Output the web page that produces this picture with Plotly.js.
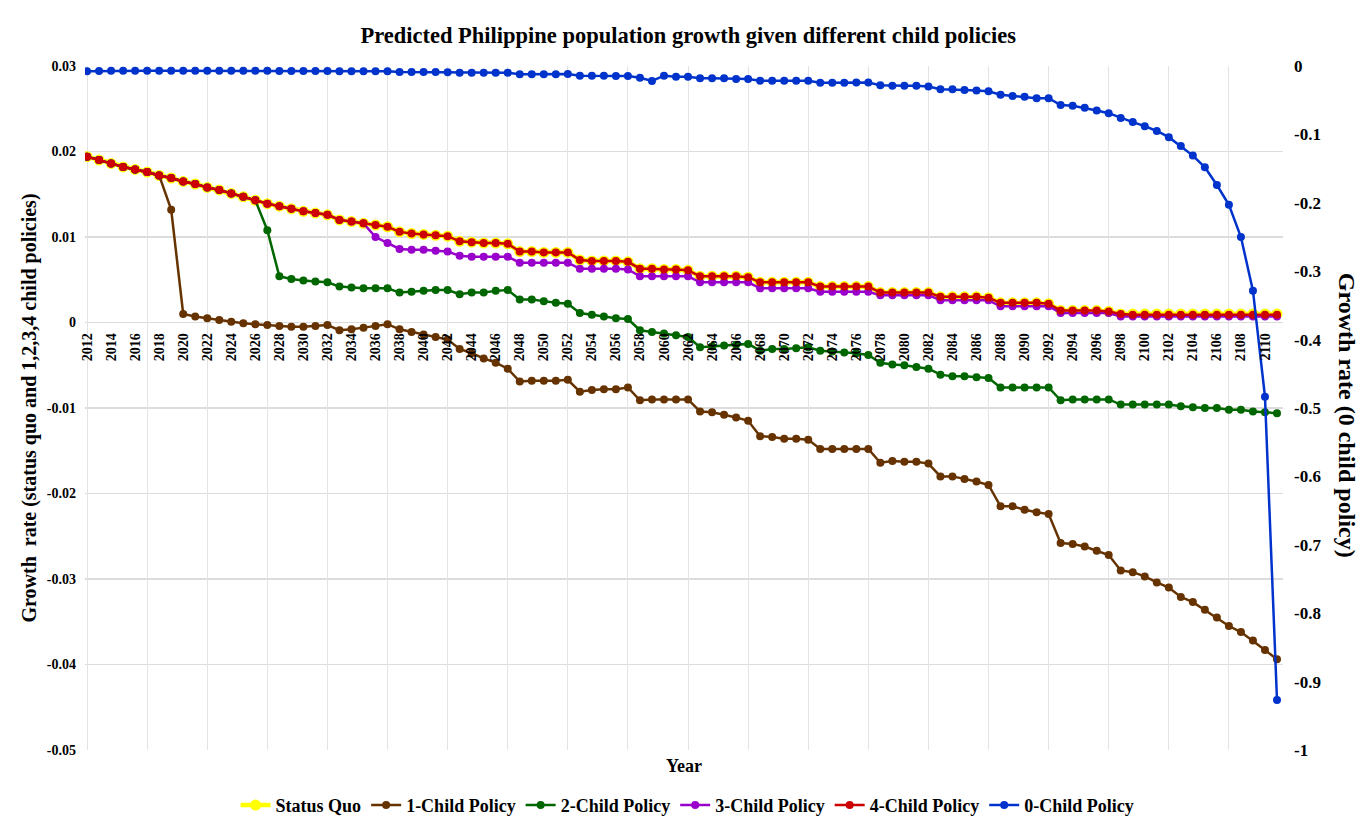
<!DOCTYPE html>
<html>
<head>
<meta charset="utf-8">
<script src="https://cdn.plot.ly/plotly-3.0.1.min.js"></script>
<style>
  html, body { margin: 0; padding: 0; background: #fff; }
  #chart { width: 1371px; height: 825px; outline: 1px solid #9a9a9a; outline-offset: -1px; }
</style>
</head>
<body>
<div id="chart"></div>
<script>
// ---------------- DATA ----------------
const years = [
  2012,2013,2014,2015,2016,2017,2018,2019,2020,2021,
  2022,2023,2024,2025,2026,2027,2028,2029,2030,2031,
  2032,2033,2034,2035,2036,2037,2038,2039,2040,2041,
  2042,2043,2044,2045,2046,2047,2048,2049,2050,2051,
  2052,2053,2054,2055,2056,2057,2058,2059,2060,2061,
  2062,2063,2064,2065,2066,2067,2068,2069,2070,2071,
  2072,2073,2074,2075,2076,2077,2078,2079,2080,2081,
  2082,2083,2084,2085,2086,2087,2088,2089,2090,2091,
  2092,2093,2094,2095,2096,2097,2098,2099,2100,2101,
  2102,2103,2104,2105,2106,2107,2108,2109,2110,2111
];

const statusQuo = [
  0.0194,0.0190,0.0186,0.0182,0.0179,0.0176,0.0172,0.0169,0.0165,0.0162,
  0.0158,0.0155,0.0151,0.0147,0.0143,0.0139,0.0136,0.0133,0.0130,0.0128,
  0.0126,0.0120,0.0118,0.0116,0.0114,0.0112,0.0106,0.0104,0.0103,0.0102,
  0.0101,0.0095,0.0094,0.0093,0.0093,0.0092,0.0083,0.0083,0.0082,0.0082,
  0.0082,0.0073,0.0072,0.0072,0.0072,0.0071,0.0063,0.0063,0.0062,0.0062,
  0.0061,0.0054,0.0054,0.0054,0.0054,0.0053,0.0047,0.0047,0.0047,0.0047,
  0.0047,0.0042,0.0042,0.0042,0.0042,0.0042,0.0035,0.0035,0.0035,0.0035,
  0.0035,0.0030,0.0030,0.0030,0.0030,0.0029,0.0023,0.0023,0.0023,0.0023,
  0.0022,0.0014,0.0014,0.0014,0.0014,0.0013,0.0010,0.0010,0.0010,0.0010,
  0.0010,0.0010,0.0010,0.0010,0.0010,0.0010,0.0010,0.0010,0.0010,0.0010
];

const oneChild = [
  0.0194,0.0190,0.0186,0.0182,0.0179,0.0176,0.0172,0.0132,0.0010,0.0007,
  0.0005,0.0003,0.0001,-0.0001,-0.0002,-0.0003,-0.0004,-0.0005,-0.0005,-0.0004,
  -0.0003,-0.0009,-0.0008,-0.0006,-0.0004,-0.0002,-0.0008,-0.0011,-0.0014,-0.0017,
  -0.0020,-0.0031,-0.0036,-0.0042,-0.0047,-0.0054,-0.0069,-0.0068,-0.0068,-0.0068,
  -0.0067,-0.0081,-0.0079,-0.0078,-0.0078,-0.0076,-0.0091,-0.0090,-0.0090,-0.0090,
  -0.0090,-0.0104,-0.0105,-0.0108,-0.0111,-0.0115,-0.0133,-0.0134,-0.0136,-0.0136,
  -0.0137,-0.0148,-0.0148,-0.0148,-0.0148,-0.0148,-0.0164,-0.0162,-0.0163,-0.0163,
  -0.0165,-0.0180,-0.0180,-0.0183,-0.0186,-0.0190,-0.0215,-0.0215,-0.0219,-0.0222,
  -0.0224,-0.0258,-0.0259,-0.0262,-0.0267,-0.0272,-0.0290,-0.0292,-0.0297,-0.0304,
  -0.0310,-0.0321,-0.0327,-0.0336,-0.0345,-0.0355,-0.0362,-0.0372,-0.0383,-0.0394
];

const twoChild = [
  0.0194,0.0190,0.0186,0.0182,0.0179,0.0176,0.0172,0.0169,0.0165,0.0162,
  0.0158,0.0155,0.0151,0.0147,0.0143,0.0108,0.0054,0.0051,0.0049,0.0048,
  0.0047,0.0042,0.0041,0.0040,0.0040,0.0040,0.0035,0.0036,0.0037,0.0038,
  0.0038,0.0033,0.0035,0.0035,0.0037,0.0038,0.0027,0.0027,0.0025,0.0023,
  0.0022,0.0011,0.0009,0.0007,0.0005,0.0004,-0.0009,-0.0011,-0.0013,-0.0015,
  -0.0017,-0.0029,-0.0028,-0.0027,-0.0026,-0.0025,-0.0033,-0.0031,-0.0031,-0.0030,
  -0.0029,-0.0033,-0.0034,-0.0035,-0.0036,-0.0038,-0.0047,-0.0049,-0.0050,-0.0052,
  -0.0054,-0.0061,-0.0063,-0.0063,-0.0064,-0.0065,-0.0076,-0.0076,-0.0076,-0.0076,
  -0.0076,-0.0091,-0.0090,-0.0090,-0.0090,-0.0090,-0.0096,-0.0096,-0.0096,-0.0096,
  -0.0096,-0.0098,-0.0099,-0.0100,-0.0100,-0.0102,-0.0102,-0.0104,-0.0105,-0.0106
];

const threeChild = [
  0.0194,0.0190,0.0186,0.0182,0.0179,0.0176,0.0172,0.0169,0.0165,0.0162,
  0.0158,0.0155,0.0151,0.0147,0.0143,0.0139,0.0136,0.0133,0.0130,0.0128,
  0.0126,0.0120,0.0118,0.0116,0.0100,0.0093,0.0086,0.0085,0.0085,0.0084,
  0.0083,0.0078,0.0077,0.0077,0.0077,0.0077,0.0070,0.0070,0.0070,0.0070,
  0.0070,0.0063,0.0063,0.0063,0.0063,0.0062,0.0054,0.0054,0.0054,0.0054,
  0.0054,0.0047,0.0047,0.0047,0.0047,0.0047,0.0040,0.0040,0.0040,0.0040,
  0.0040,0.0036,0.0036,0.0036,0.0036,0.0036,0.0032,0.0032,0.0032,0.0032,
  0.0032,0.0026,0.0026,0.0026,0.0026,0.0026,0.0019,0.0019,0.0019,0.0019,
  0.0019,0.0011,0.0011,0.0011,0.0011,0.0011,0.0007,0.0007,0.0007,0.0007,
  0.0007,0.0007,0.0007,0.0007,0.0007,0.0007,0.0007,0.0007,0.0007,0.0007
];

const fourChild = [
  0.0194,0.0190,0.0186,0.0182,0.0179,0.0176,0.0172,0.0169,0.0165,0.0162,
  0.0158,0.0155,0.0151,0.0147,0.0143,0.0139,0.0136,0.0133,0.0130,0.0128,
  0.0126,0.0120,0.0118,0.0116,0.0114,0.0112,0.0106,0.0104,0.0103,0.0102,
  0.0101,0.0095,0.0094,0.0093,0.0093,0.0092,0.0083,0.0083,0.0082,0.0082,
  0.0082,0.0073,0.0072,0.0072,0.0072,0.0071,0.0063,0.0063,0.0062,0.0062,
  0.0061,0.0054,0.0054,0.0054,0.0054,0.0053,0.0047,0.0047,0.0047,0.0047,
  0.0047,0.0042,0.0042,0.0042,0.0042,0.0042,0.0035,0.0035,0.0035,0.0035,
  0.0035,0.0030,0.0030,0.0030,0.0030,0.0029,0.0023,0.0023,0.0023,0.0023,
  0.0022,0.0014,0.0014,0.0014,0.0014,0.0013,0.0010,0.0009,0.0009,0.0009,
  0.0009,0.0009,0.0009,0.0009,0.0009,0.0009,0.0009,0.0009,0.0009,0.0009
];

const zeroChild = [
  -0.0075,-0.0072,-0.0070,-0.0068,-0.0068,-0.0068,-0.0068,-0.0068,-0.0068,-0.0068,
  -0.0068,-0.0070,-0.0070,-0.0070,-0.0070,-0.0070,-0.0072,-0.0072,-0.0072,-0.0072,
  -0.0073,-0.0077,-0.0077,-0.0077,-0.0077,-0.0078,-0.0088,-0.0088,-0.0088,-0.0088,
  -0.0090,-0.0098,-0.0098,-0.0098,-0.0098,-0.0098,-0.0120,-0.0120,-0.0120,-0.0120,
  -0.0118,-0.0142,-0.0142,-0.0142,-0.0145,-0.0145,-0.0171,-0.0219,-0.0142,-0.0156,
  -0.0156,-0.0180,-0.0180,-0.0180,-0.0190,-0.0190,-0.0214,-0.0215,-0.0215,-0.0215,
  -0.0215,-0.0244,-0.0244,-0.0244,-0.0240,-0.0240,-0.0280,-0.0290,-0.0290,-0.0290,
  -0.0300,-0.0340,-0.0340,-0.0350,-0.0360,-0.0370,-0.0420,-0.0440,-0.0450,-0.0470,
  -0.0470,-0.0570,-0.0580,-0.0610,-0.0650,-0.0690,-0.0760,-0.0820,-0.0880,-0.0950,
  -0.1040,-0.1170,-0.1310,-0.1480,-0.1740,-0.2030,-0.2500,-0.3285,-0.4834,-0.9270
];

const xTickVals = [2012,2014,2016,2018,2020,2022,2024,2026,2028,2030,2032,2034,2036,2038,2040,2042,2044,2046,2048,2050,2052,2054,2056,2058,2060,2062,2064,2066,2068,2070,2072,2074,2076,2078,2080,2082,2084,2086,2088,2090,2092,2094,2096,2098,2100,2102,2104,2106,2108,2110];
const xTickText = xTickVals.map(String);
const yLeftTickVals = [0.03,0.02,0.01,0,-0.01,-0.02,-0.03,-0.04,-0.05];
const yLeftTickText = ['0.03','0.02','0.01','0','-0.01','-0.02','-0.03','-0.04','-0.05'];
const yRightTickVals = [0,-0.1,-0.2,-0.3,-0.4,-0.5,-0.6,-0.7,-0.8,-0.9,-1];
const yRightTickText = ['0','-0.1','-0.2','-0.3','-0.4','-0.5','-0.6','-0.7','-0.8','-0.9','-1'];

const seriesNames = ['Status Quo','1-Child Policy','2-Child Policy','3-Child Policy','4-Child Policy','0-Child Policy'];
const seriesColors = ['#FFFF00','#663300','#006600','#9900CC','#CC0000','#0033CC'];

// ---------------- CHART ----------------
const FONT = 'Liberation Serif, Times New Roman, serif';
const xRange = [2011.83, 2111.5];

function lineTrace(name, y, color, opts) {
  return Object.assign({
    type: 'scatter', mode: 'lines+markers', name: name,
    x: years, y: y,
    line: {color: color, width: 2.5},
    marker: {color: color, size: 8, symbol: 'circle'},
    xaxis: 'x', yaxis: 'y'
  }, opts || {});
}

const traces = [
  lineTrace(seriesNames[0], statusQuo, seriesColors[0], {line: {color: seriesColors[0], width: 4.5}, marker: {color: seriesColors[0], size: 11}}),
  lineTrace(seriesNames[1], oneChild, seriesColors[1]),
  lineTrace(seriesNames[2], twoChild, seriesColors[2]),
  lineTrace(seriesNames[3], threeChild, seriesColors[3]),
  lineTrace(seriesNames[4], fourChild, seriesColors[4]),
  lineTrace(seriesNames[5], zeroChild, seriesColors[5], {xaxis: 'x2', yaxis: 'y2', marker: {color: seriesColors[5], size: 8}})
];

const layout = {
  width: 1371, height: 825,
  paper_bgcolor: '#ffffff', plot_bgcolor: '#ffffff',
  font: {family: FONT, color: '#000000', weight: 'bold'},
  margin: {l: 85, r: 88, t: 66, b: 75, autoexpand: false},
  title: {
    text: 'Predicted Philippine population growth given different child policies',
    font: {family: FONT, size: 22.5, weight: 'bold', color: '#000'},
    x: 0.502, xanchor: 'center', xref: 'container',
    y: 1 - 35/825, yanchor: 'middle', yref: 'container'
  },
  showlegend: true,
  legend: {
    orientation: 'h', x: 0.503, xanchor: 'center', y: -0.081, yanchor: 'middle',
    font: {family: FONT, size: 18, weight: 'bold', color: '#000'},
    itemwidth: 30, bgcolor: 'rgba(0,0,0,0)'
  },
  xaxis: {
    range: xRange, anchor: 'free', position: 0.625,
    tickmode: 'array', tickvals: xTickVals, ticktext: xTickText,
    tickangle: -90, ticks: '', ticklabelstandoff: 7,
    tickfont: {family: FONT, size: 14, weight: 'bold', color: '#000'},
    showgrid: false, zeroline: false, showline: false, fixedrange: true
  },
  xaxis2: {
    range: xRange, overlaying: 'x', anchor: 'y', side: 'bottom',
    tickmode: 'linear', tick0: 2012, dtick: 5,
    showticklabels: false, ticks: '',
    showgrid: true, gridcolor: '#e3e3e3', gridwidth: 1,
    zeroline: false, showline: false,
    title: {text: 'Year', font: {family: FONT, size: 18, weight: 'bold', color: '#000'}, standoff: 9}
  },
  yaxis: {
    range: [-0.05, 0.03],
    tickmode: 'array', tickvals: yLeftTickVals, ticktext: yLeftTickText,
    ticks: '', ticklabelstandoff: 8,
    tickfont: {family: FONT, size: 14, weight: 'bold', color: '#000'},
    showgrid: true, gridcolor: '#dcdcdc', gridwidth: 1.2,
    zeroline: false, showline: false,
    title: {text: 'Growth  rate (status quo and 1,2,3,4 child policies)', font: {family: FONT, size: 20, weight: 'bold', color: '#000'}, standoff: 4}
  },
  yaxis2: {
    range: [-1, 0], overlaying: 'y', side: 'right', anchor: 'x2',
    tickmode: 'array', tickvals: yRightTickVals, ticktext: yRightTickText,
    ticks: '', ticklabelstandoff: 10,
    tickfont: {family: FONT, size: 17, weight: 'bold', color: '#000'},
    showgrid: false, zeroline: false, showline: false
  },
  annotations: [{
    text: 'Growth rate (0 child policy)',
    xref: 'paper', yref: 'paper', x: 1 + (1347 - 1283) / 1198, y: 0.49,
    xanchor: 'center', yanchor: 'middle', textangle: 90, showarrow: false,
    font: {family: FONT, size: 24, weight: 'bold', color: '#000'}
  }]
};

Plotly.newPlot('chart', traces, layout, {displayModeBar: false, staticPlot: true});
</script>
</body>
</html>
